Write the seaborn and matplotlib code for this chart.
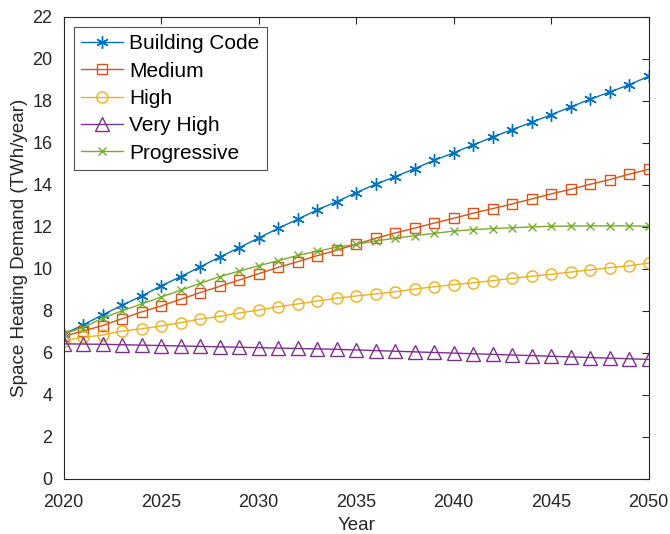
import numpy as np
import pandas as pd
import matplotlib
matplotlib.use("Agg")
import matplotlib.pyplot as plt
import seaborn as sns

years = list(range(2020, 2051))
building_code = [6.88, 7.32, 7.80, 8.26, 8.70, 9.18, 9.62, 10.08, 10.55, 11.00,
                 11.46, 11.92, 12.35, 12.80, 13.19, 13.62, 14.02, 14.38, 14.76, 15.16,
                 15.52, 15.89, 16.27, 16.62, 16.97, 17.33, 17.70, 18.07, 18.41, 18.76, 19.16]
medium = [6.78, 7.03, 7.29, 7.62, 7.94, 8.22, 8.54, 8.86, 9.16, 9.46,
          9.76, 10.06, 10.33, 10.62, 10.88, 11.16, 11.45, 11.70, 11.93, 12.17,
          12.40, 12.64, 12.86, 13.08, 13.32, 13.56, 13.78, 14.02, 14.24, 14.50, 14.73]
high = [6.57, 6.73, 6.84, 7.03, 7.14, 7.27, 7.43, 7.60, 7.73, 7.89,
        8.03, 8.19, 8.32, 8.46, 8.59, 8.70, 8.80, 8.90, 9.03, 9.14,
        9.24, 9.33, 9.43, 9.54, 9.64, 9.73, 9.84, 9.94, 10.05, 10.14, 10.27]
very_high = [6.42, 6.41, 6.40, 6.38, 6.36, 6.34, 6.32, 6.30, 6.28, 6.26,
             6.24, 6.22, 6.20, 6.18, 6.16, 6.13, 6.10, 6.07, 6.04, 6.01,
             5.98, 5.95, 5.92, 5.89, 5.86, 5.83, 5.80, 5.77, 5.74, 5.71, 5.68]
progressive = [6.90, 7.19, 7.64, 7.99, 8.32, 8.65, 8.97, 9.30, 9.62, 9.88,
               10.14, 10.38, 10.63, 10.83, 11.02, 11.16, 11.32, 11.45, 11.57, 11.68,
               11.79, 11.86, 11.91, 11.95, 11.99, 12.02, 12.03, 12.04, 12.04, 12.04, 12.02]

series_names = ["Building Code", "Medium", "High", "Very High", "Progressive"]
series_vals = [building_code, medium, high, very_high, progressive]

sns.set_theme(style="white")
plt.rcParams['font.family'] = ['Liberation Sans', 'DejaVu Sans']

colors = ["#0072BD", "#D95319", "#EDB120", "#7E2F8E", "#77AC30"]
markers = [(6, 2, 0), "s", "o", "^", "x"]
msizes = [9, 7, 8, 9.5, 6]

fig = plt.figure(figsize=(6.7, 5.34), dpi=100)
ax = fig.add_axes([0.0948, 0.1036, 0.8732, 0.8651])

for name, vals, c, m, ms in zip(series_names, series_vals, colors, markers, msizes):
    df = pd.DataFrame({"Year": years, "Demand": vals})
    sns.lineplot(data=df, x="Year", y="Demand", ax=ax, color=c, marker=m,
                 markersize=ms, markerfacecolor="none", markeredgecolor=c,
                 markeredgewidth=1.0, linewidth=1.0, label=name)

ax.set_xlim(2020, 2050)
ax.set_ylim(0, 22)
ax.set_xticks(range(2020, 2051, 5))
ax.set_yticks(range(0, 23, 2))
ax.set_xlabel("Year", fontsize=13.5, color="#262626", labelpad=4)
ax.set_ylabel("Space Heating Demand (TWh/year)", fontsize=13.5, color="#262626", labelpad=3)
ax.tick_params(axis="both", direction="in", length=5, width=0.8, labelsize=13,
               colors="#262626", top=True, right=True)
ax.tick_params(axis="x", pad=11)
ax.tick_params(axis="y", pad=8)
for s in ax.spines.values():
    s.set_visible(True)
    s.set_color("#262626")
    s.set_linewidth(0.8)

leg = ax.legend(loc="upper left", fontsize=15, frameon=True, fancybox=False,
                edgecolor="#262626", handlelength=2.0, handletextpad=0.3,
                labelspacing=0.4, borderpad=0.35, borderaxespad=0.5)
leg.get_frame().set_linewidth(0.8)
for t in leg.get_texts():
    t.set_color("black")

fig.savefig("out.png", dpi=100)
